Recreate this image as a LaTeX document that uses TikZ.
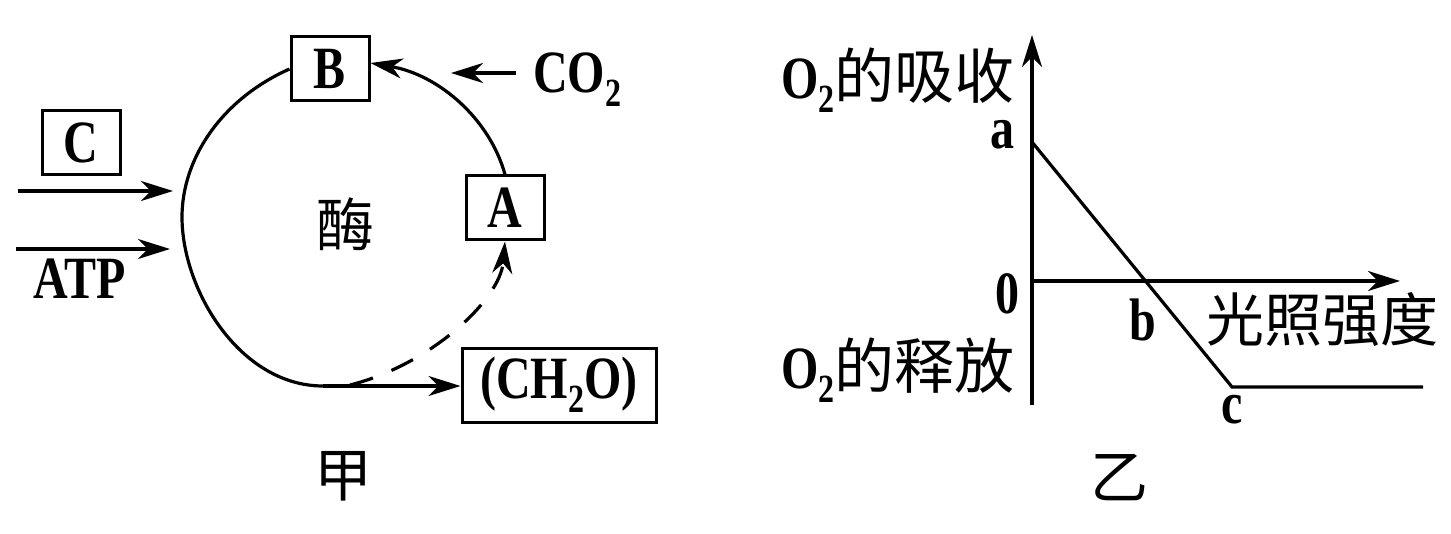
\documentclass[tikz,border=0pt]{standalone}
\usepackage{fontspec}
\setmainfont[FakeStretch=0.8]{Liberation Serif}
\newfontfamily\cjk{Noto Sans CJK SC}
\usetikzlibrary{arrows.meta}
\newcommand\sbs[1]{\raisebox{-0.5ex}{\fontsize{20}{20}\selectfont #1}}
\tikzset{
  >={Stealth[length=16pt,width=10pt,inset=5pt]},
  txt/.style={font=\fontsize{30}{34}\selectfont\bfseries,inner sep=0pt},
  box/.style={txt,draw,line width=1.5pt,minimum width=39pt,minimum height=32pt,inner sep=2pt},
  hz/.style={font=\fontsize{29}{34}\selectfont\cjk\mdseries,inner sep=0pt},
  arr/.style={->,line width=1.6pt},
  ln/.style={line width=1.6pt},
}
\begin{document}
\begin{tikzpicture}[x=0.5pt,y=-0.5pt]
\useasboundingbox (0,0) rectangle (1451,534);
% 甲
\node[box] (B) at (330,69) {B};
\node[box] (A) at (505,208) {A};
\node[box] (C) at (81,143) {C};
\node[box,minimum width=97pt,minimum height=37pt] (ch) at (559,385) {(CH\sbs{2}O)};
\node[txt] (co) at (577,80) {CO\sbs{2}};
\node[txt] (atp) at (80,279) {ATP};
\node[hz] (mei) at (345,224) {酶};
\node[hz] (jia) at (343,476) {甲};
\coordinate (lft) at (182,217);
\coordinate (bot) at (323,386);
\coordinate (ds) at (350,385);
\coordinate (c0) at (18,191); \coordinate (c1) at (173,191);
\coordinate (t0) at (16,249); \coordinate (t1) at (170,249);
\coordinate (g0) at (516,73); \coordinate (g1) at (451,73);
\draw[ln] (B.west) .. controls (220,100) and (182,160) .. (lft)
  .. controls (182,290) and (240,386) .. (bot);
\draw[arr] (A.north) .. controls (490,120) and (440,75) .. ([yshift=3pt]B.east);
\draw[arr] (bot) -- (bot -| ch.west);
\draw[arr,dash pattern=on 12pt off 10pt] (ds) .. controls (430,365) and (500,300) .. (A.south);
\draw[arr] (c0) -- (c1);
\draw[arr] (t0) -- (t1);
\draw[arr] (g0) -- (g1);
% 乙
\coordinate (o) at (1032,281);
\coordinate (yb) at (1032,405); \coordinate (yt) at (1032,35);
\coordinate (xe) at (1400,281);
\coordinate (pa) at (1032,142); \coordinate (pc) at (1232,387); \coordinate (pe) at (1423,387);
\draw[arr] (yb) -- (yt);
\draw[arr] (o) -- (xe);
\draw[ln] (pa) -- (pc) -- (pe);
\node[txt] (la) at (1002,135) {a};
\node[txt] (l0) at (1007,294) {0};
\node[txt] (lb) at (1143,320) {b};
\node[txt] (lc) at (1232,410) {c};
\node[hz] (gz) at (1322,320) {光照强度};
\node[txt] (xs) at (898,80) {O\sbs{2}{\cjk\mdseries 的吸收}};
\node[txt] (sf) at (898,370) {O\sbs{2}{\cjk\mdseries 的释放}};
\node[hz] (yi) at (1119,478) {乙};
\end{tikzpicture}
\end{document}
